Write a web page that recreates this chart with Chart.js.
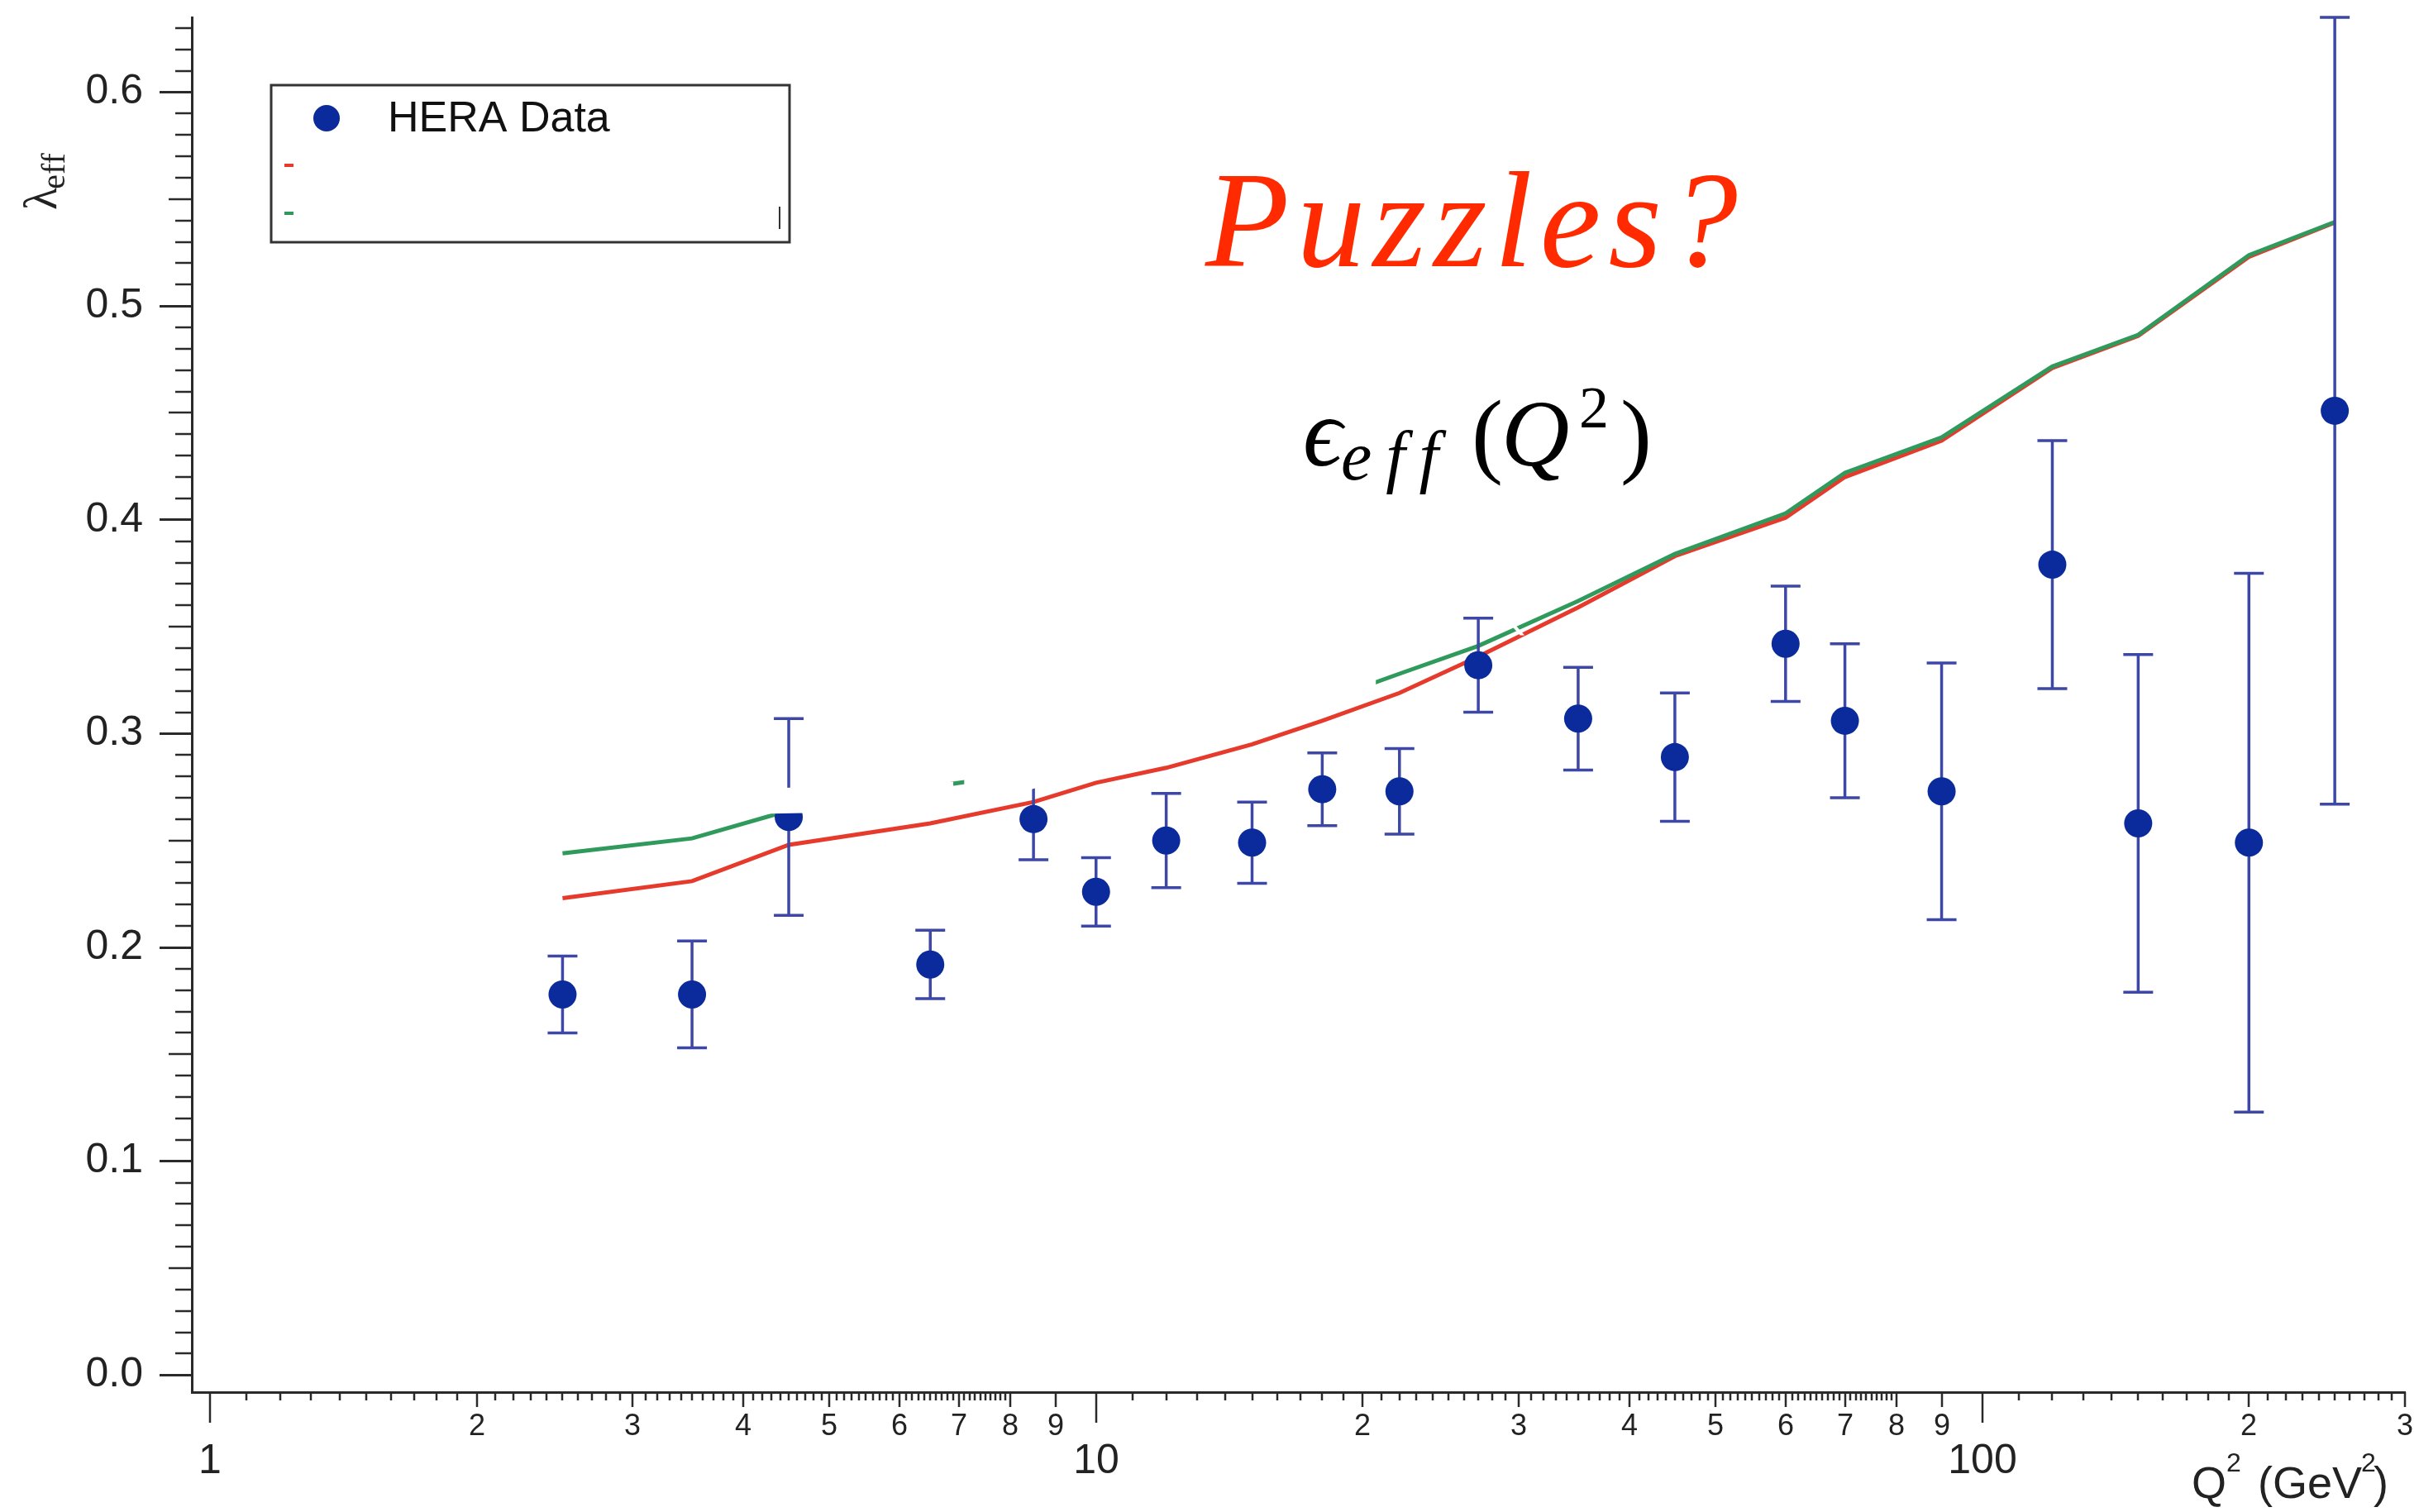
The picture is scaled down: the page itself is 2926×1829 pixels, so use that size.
<!DOCTYPE html>
<html>
<head>
<meta charset="utf-8">
<title>λeff vs Q²</title>
<script src="https://cdn.jsdelivr.net/npm/chart.js@4.4.1/dist/chart.umd.min.js"></script>
<style>
  html, body { margin: 0; padding: 0; background: #fff; }
  #wrap { position: relative; width: 2926px; height: 1829px; }
</style>
</head>
<body>
<div id="wrap"><canvas id="lambdaChart"></canvas></div>
<script>
const q2Values = [2.5, 3.5, 4.5, 6.5, 8.5, 10, 12, 15, 18, 22, 27, 35, 45, 60, 70, 90, 120, 150, 200, 250];
const heraLambda = [0.178, 0.178, 0.261, 0.192, 0.260, 0.226, 0.250, 0.249, 0.274, 0.273,
  0.332, 0.307, 0.289, 0.342, 0.306, 0.273, 0.379, 0.258, 0.249, 0.451];
const heraError = [0.018, 0.025, 0.046, 0.016, 0.019, 0.016, 0.022, 0.019, 0.017, 0.020,
  0.022, 0.024, 0.030, 0.027, 0.036, 0.060, 0.058, 0.079, 0.126, 0.184];
const redCurve = [0.223, 0.231, 0.248, 0.258, 0.268, 0.277, 0.284, 0.295, 0.306, 0.319,
  0.336, 0.359, 0.383, 0.401, 0.420, 0.437, 0.471, 0.486, 0.523, 0.539];
const greenCurve = [0.244, 0.251, 0.264, 0.275, 0.282, 0.288, 0.294, 0.305, 0.315, 0.328,
  0.341, 0.362, 0.384, 0.403, 0.422, 0.4385, 0.4717, 0.4865, 0.5238, 0.5393];

const yTickValues = [0, 0.1, 0.2, 0.3, 0.4, 0.5, 0.6];
const xMajorTicks = [1, 10, 100];
const xLabelledMinorTicks = [2, 3, 4, 5, 6, 7, 8, 9, 20, 30, 40, 50, 60, 70, 80, 90, 200, 300];

// white cover-ups lying over the model curves, corners given as [Q², λ]
const coverPatches = [
  [[3.95, 0.2739], [6.9, 0.2774], [6.9, 0.2642], [3.95, 0.2623]],
  [[7.1, 0.2855], [20.69, 0.3300], [20.69, 0.3176], [7.1, 0.2655]],
  [[29.4, 0.3507], [29.75, 0.3507], [30.45, 0.3460], [30.1, 0.3460]],
];

const AXIS_COLOR = "#2a2a2a";
const MARKER_COLOR = "#0b2b9c";
const ERROR_COLOR = "#3d47a6";
const RED_COLOR = "#e53a2c";
const GREEN_COLOR = "#2f9a5c";
const SANS = '"Liberation Sans"';
const SERIF = '"Liberation Serif"';

const errorBarPlugin = {
  id: "errorBars",
  beforeDatasetDraw(chart, args) {
    if (args.index !== 0) {
      return;
    }
    const { ctx } = chart;
    const xs = chart.scales.x;
    const ys = chart.scales.y;

    ctx.save();
    ctx.strokeStyle = ERROR_COLOR;
    ctx.lineWidth = 3.5;
    q2Values.forEach((q2, i) => {
      const x = xs.getPixelForValue(q2);
      const top = ys.getPixelForValue(heraLambda[i] + heraError[i]);
      const bottom = ys.getPixelForValue(heraLambda[i] - heraError[i]);

      ctx.beginPath();
      ctx.moveTo(x, top);
      ctx.lineTo(x, bottom);
      ctx.moveTo(x - 18, top);
      ctx.lineTo(x + 18, top);
      ctx.moveTo(x - 18, bottom);
      ctx.lineTo(x + 18, bottom);
      ctx.stroke();
    });
    ctx.restore();
  },
};

const coverPlugin = {
  id: "covers",
  afterDatasetsDraw(chart) {
    const { ctx } = chart;
    const xs = chart.scales.x;
    const ys = chart.scales.y;

    ctx.save();
    ctx.fillStyle = "#ffffff";
    coverPatches.forEach((patch) => {
      ctx.beginPath();
      patch.forEach(([q2, lam], i) => {
        const px = xs.getPixelForValue(q2);
        const py = ys.getPixelForValue(lam);
        if (i === 0) {
          ctx.moveTo(px, py);
        } else {
          ctx.lineTo(px, py);
        }
      });
      ctx.closePath();
      ctx.fill();
    });
    ctx.restore();
  },
};

function drawTick(ctx, x1, y1, x2, y2) {
  ctx.beginPath();
  ctx.moveTo(x1, y1);
  ctx.lineTo(x2, y2);
  ctx.stroke();
}

const axisTicksPlugin = {
  id: "axisTicks",
  afterDraw(chart) {
    const { ctx, chartArea } = chart;
    const xs = chart.scales.x;
    const ys = chart.scales.y;
    const axisY = chartArea.bottom;
    const axisX = chartArea.left;

    ctx.save();
    ctx.strokeStyle = AXIS_COLOR;
    ctx.lineWidth = 2.5;

    // y minor ticks every 0.01, a bit longer on the half steps
    for (let i = 1; i <= 63; i++) {
      if (i % 10 === 0) {
        continue;
      }
      const py = Math.round(ys.getPixelForValue(i / 100));
      const len = i % 5 === 0 ? 28 : 20;
      drawTick(ctx, axisX - len, py, axisX, py);
    }

    // unlabelled log sub-ticks
    const subTicks = [];
    for (let i = 11; i < 80; i++) {
      if (i % 10 !== 0) {
        subTicks.push(i / 10, i);
      }
    }
    for (let i = 11; i < 30; i++) {
      if (i % 10 !== 0) {
        subTicks.push(i * 10);
      }
    }
    subTicks.forEach((v) => {
      const px = Math.round(xs.getPixelForValue(v));
      drawTick(ctx, px, axisY, px, axisY + 10);
    });

    ctx.fillStyle = "#222";
    ctx.textAlign = "center";
    ctx.textBaseline = "middle";

    ctx.font = `36px ${SANS}`;
    xLabelledMinorTicks.forEach((v) => {
      const px = Math.round(xs.getPixelForValue(v));
      drawTick(ctx, px, axisY, px, axisY + 18);
      ctx.fillText(String(v).charAt(0), px, axisY + 42);
    });

    ctx.font = `50px ${SANS}`;
    xMajorTicks.forEach((v) => {
      const px = Math.round(xs.getPixelForValue(v));
      drawTick(ctx, px, axisY, px, axisY + 37);
      ctx.fillText(String(v), px, axisY + 84);
    });
    ctx.restore();
  },
};

const annotationPlugin = {
  id: "annotations",
  afterDraw(chart) {
    const { ctx } = chart;
    const pointSet = chart.data.datasets[0];

    ctx.save();
    ctx.textAlign = "left";
    ctx.textBaseline = "alphabetic";

    // legend box
    ctx.strokeStyle = "#333";
    ctx.lineWidth = 3;
    ctx.strokeRect(328, 103, 627, 190);
    ctx.fillStyle = pointSet.pointBackgroundColor;
    ctx.beginPath();
    ctx.arc(395, 143, 16, 0, Math.PI * 2);
    ctx.fill();
    ctx.fillStyle = "#111";
    ctx.font = `52px ${SANS}`;
    ctx.fillText(pointSet.label, 469, 159);
    ctx.fillStyle = chart.data.datasets[2].borderColor;
    ctx.fillRect(344, 198, 11, 4);
    ctx.fillStyle = chart.data.datasets[1].borderColor;
    ctx.fillRect(344, 256, 11, 4);
    ctx.fillStyle = "#333";
    ctx.fillRect(942, 250, 2, 27);

    // headline
    ctx.fillStyle = "#ff2a00";
    ctx.font = `italic 166px ${SERIF}`;
    ctx.letterSpacing = "9px";
    ctx.fillText("Puzzles?", 1458, 322);
    ctx.letterSpacing = "0px";

    // ϵ_eff(Q²)
    ctx.fillStyle = "#000";
    ctx.font = `italic 118px ${SERIF}`;
    ctx.fillText("ϵ", 1576, 563);
    ctx.font = `italic 84px ${SERIF}`;
    ctx.letterSpacing = "17px";
    ctx.fillText("eff", 1622, 580);
    ctx.letterSpacing = "0px";
    ctx.font = `114px ${SERIF}`;
    ctx.fillText("(", 1780, 563);
    ctx.font = `italic 114px ${SERIF}`;
    ctx.fillText("Q", 1816, 563);
    ctx.font = `72px ${SERIF}`;
    ctx.fillText("2", 1910, 517);
    ctx.font = `114px ${SERIF}`;
    ctx.fillText(")", 1960, 563);

    // x title: Q² (GeV²)
    ctx.fillStyle = "#222";
    ctx.font = `54px ${SANS}`;
    ctx.fillText("Q", 2651, 1812);
    ctx.fillText("(GeV", 2731, 1812);
    ctx.fillText(")", 2871, 1812);
    ctx.font = `32px ${SANS}`;
    ctx.fillText("2", 2693, 1780);
    ctx.fillText("2", 2856, 1780);

    // y title: λ_eff, rotated
    ctx.translate(68, 254);
    ctx.rotate(-Math.PI / 2);
    ctx.font = `56px ${SERIF}`;
    ctx.fillText("λ", 0, 0);
    const lambdaWidth = ctx.measureText("λ").width;
    ctx.font = `40px ${SERIF}`;
    ctx.fillText("eff", lambdaWidth - 2, 10);
    ctx.restore();
  },
};

const toPoints = (values) => q2Values.map((q2, i) => ({ x: q2, y: values[i] }));

new Chart(document.getElementById("lambdaChart"), {
  type: "scatter",
  data: {
    datasets: [
      {
        label: "HERA Data",
        data: toPoints(heraLambda),
        pointRadius: 17,
        pointBackgroundColor: MARKER_COLOR,
        pointBorderWidth: 0,
        showLine: false,
      },
      {
        label: "",
        data: toPoints(greenCurve),
        borderColor: GREEN_COLOR,
        borderWidth: 5,
        pointRadius: 0,
        showLine: true,
        tension: 0,
      },
      {
        label: "",
        data: toPoints(redCurve),
        borderColor: RED_COLOR,
        borderWidth: 5,
        pointRadius: 0,
        showLine: true,
        tension: 0,
      },
    ],
  },
  options: {
    responsive: true,
    maintainAspectRatio: false,
    devicePixelRatio: 1,
    animation: false,
    events: [],
    layout: { padding: { top: 21, right: 12, left: 0, bottom: 0 } },
    plugins: {
      legend: { display: false },
      tooltip: { enabled: false },
    },
    scales: {
      x: {
        type: "logarithmic",
        min: 0.954,
        max: 300,
        grid: { display: false },
        ticks: { display: false },
        border: { display: true, color: AXIS_COLOR, width: 3 },
        afterFit(scale) {
          scale.height = 145;
          scale.paddingLeft = 0;
          scale.paddingRight = 0;
        },
      },
      y: {
        type: "linear",
        min: -0.008,
        max: 0.635,
        afterBuildTicks(scale) {
          scale.ticks = yTickValues.map((value) => ({ value }));
        },
        ticks: {
          padding: 20,
          color: "#222",
          font: { family: SANS, size: 50 },
          callback: (value) => Number(value).toFixed(1),
        },
        grid: {
          drawOnChartArea: false,
          drawTicks: true,
          tickLength: 39,
          tickWidth: 3,
          tickColor: AXIS_COLOR,
        },
        border: { display: true, color: AXIS_COLOR, width: 3 },
        afterFit(scale) {
          scale.width = 232;
          scale.paddingTop = 0;
          scale.paddingBottom = 0;
        },
      },
    },
  },
  plugins: [errorBarPlugin, coverPlugin, axisTicksPlugin, annotationPlugin],
});
</script>
</body>
</html>
